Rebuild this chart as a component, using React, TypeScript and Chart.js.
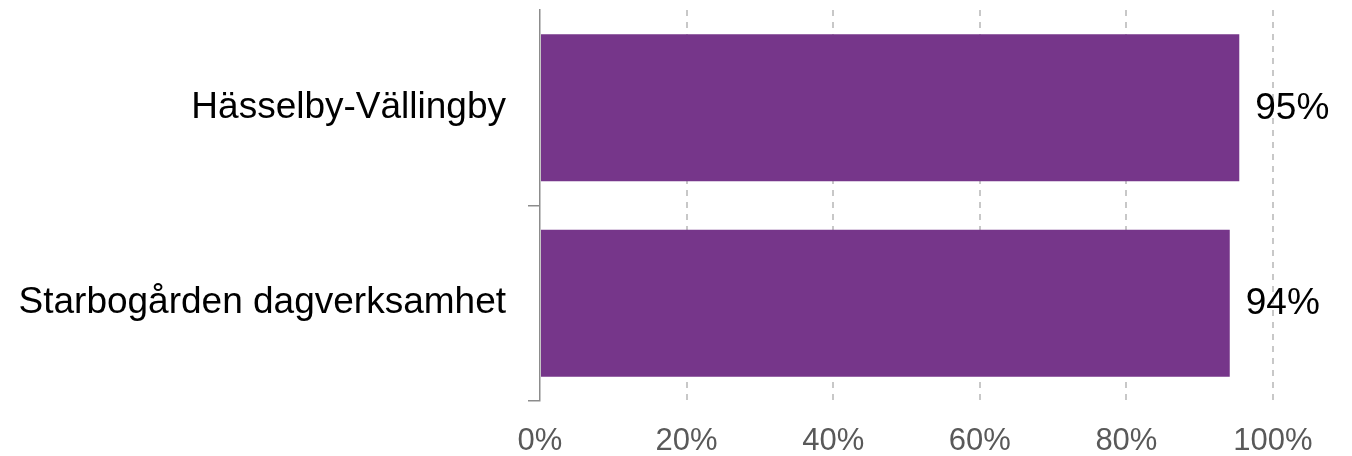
import React, { useEffect, useRef } from "react";
import { Chart, registerables } from "chart.js";

Chart.register(...registerables);

const categories: string[] = ["Hässelby-Vällingby", "Starbogården dagverksamhet"];
const values: number[] = [95.4, 94.1];
const xTickValues: number[] = [0, 20, 40, 60, 80, 100];

const FONT = "'Liberation Sans', Arial, sans-serif";

const valueLabelPlugin = {
  id: "valueLabels",
  afterDatasetsDraw(chart: any) {
    const ctx = chart.ctx;
    const meta = chart.getDatasetMeta(0);
    ctx.save();
    ctx.font = `37px ${FONT}`;
    ctx.fillStyle = "#000000";
    ctx.textAlign = "left";
    ctx.textBaseline = "middle";
    meta.data.forEach((el: any, i: number) => {
      const v = values[i];
      ctx.fillText(`${Math.round(v)}%`, el.x + 16, el.y + 1);
    });
    ctx.restore();
  },
};

export default function App() {
  const canvasRef = useRef<HTMLCanvasElement | null>(null);

  useEffect(() => {
    if (!canvasRef.current) return;
    const chart = new Chart(canvasRef.current, {
      type: "bar",
      data: {
        labels: categories,
        datasets: [
          {
            data: values,
            backgroundColor: "#76368a",
            borderWidth: 0,
            barPercentage: 0.752,
            categoryPercentage: 1,
          },
        ],
      },
      options: {
        indexAxis: "y",
        animation: false,
        responsive: true,
        maintainAspectRatio: false,
        layout: { padding: { top: 10, right: 79, left: 0, bottom: 0 } },
        plugins: {
          legend: { display: false },
          tooltip: { enabled: false },
        },
        scales: {
          x: {
            min: 0,
            max: 100,
            afterFit: (scale: any) => {
              scale.height = 55;
              scale.paddingLeft = 0;
              scale.paddingRight = 0;
            },
            afterBuildTicks: (scale: any) => {
              scale.ticks = xTickValues.map((v) => ({ value: v }));
            },
            border: { display: false, dash: [6, 6] },
            grid: {
              display: true,
              drawTicks: false,
              color: (ctx: any) => (ctx.index === 0 ? "rgba(0,0,0,0)" : "#c8c8c8"),
              lineWidth: 2,
            },
            ticks: {
              padding: 22,
              color: "#595959",
              font: { family: FONT, size: 31 },
              callback: (v: any) => `${v}%`,
            },
          } as any,
          y: {
            afterFit: (scale: any) => {
              scale.width = 540;
              scale.paddingTop = 0;
              scale.paddingBottom = 0;
            },
            border: { display: true, color: "#8c8c8c", width: 1.5 },
            grid: {
              display: true,
              drawOnChartArea: false,
              drawTicks: true,
              tickLength: 12,
              offset: true,
              lineWidth: 1.5,
              color: (ctx: any) => (ctx.index === 0 ? "rgba(0,0,0,0)" : "#8c8c8c"),
            },
            ticks: {
              padding: 22,
              color: "#000000",
              font: { family: FONT, size: 37 },
            },
          },
        },
      },
      plugins: [valueLabelPlugin],
    });
    return () => chart.destroy();
  }, []);

  return (
    <div style={{ position: "fixed", left: 0, top: 0, width: 1352, height: 456, background: "#ffffff" }}>
      <canvas ref={canvasRef} />
    </div>
  );
}
